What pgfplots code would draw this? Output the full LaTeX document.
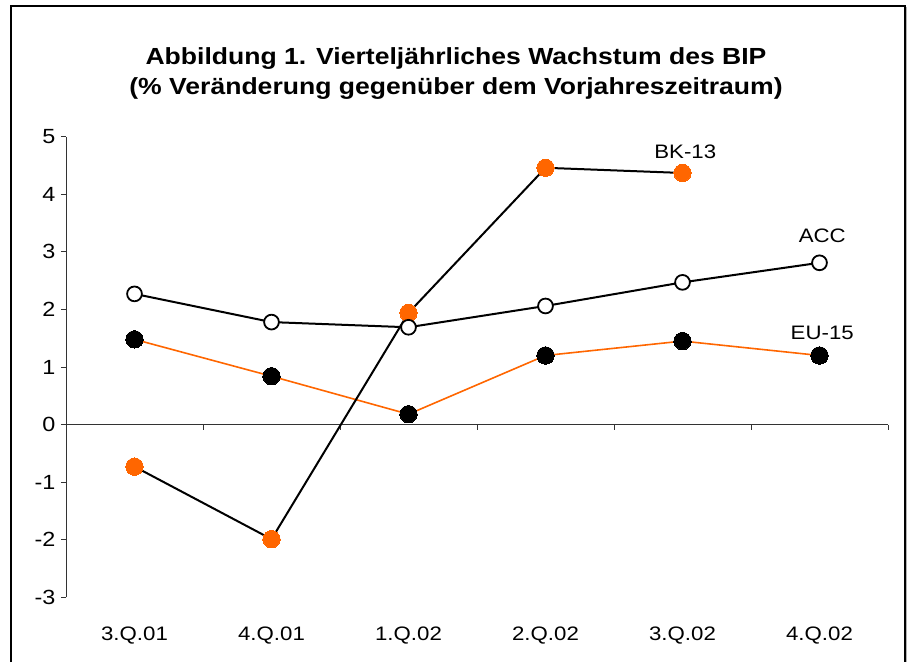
\documentclass[border=0pt]{standalone}
\usepackage{fontspec}
\setmainfont{Liberation Sans}[FakeStretch=1.14]
\usepackage{pgfplots}
\pgfplotsset{compat=1.18}
\definecolor{bkorange}{RGB}{255,102,0}
\pgfplotstableread{
x y
0 -0.73
1 -1.99
2 1.94
3 4.46
4 4.37
}\bk
\pgfplotstableread{
x y
0 2.27
1 1.78
2 1.69
3 2.06
4 2.47
5 2.81
}\acc
\pgfplotstableread{
x y
0 1.48
1 0.84
2 0.18
3 1.20
4 1.45
5 1.20
}\eu
\begin{document}
\begin{tikzpicture}
\useasboundingbox (0,0) rectangle (911pt,662pt);
\draw[gray!60, line width=1.2pt] (906.8pt,0) -- (906.8pt,655pt);
\draw[line width=1.1pt] (11pt,0) -- (11pt,656pt) -- (905pt,656pt) -- (905pt,0);
\node[anchor=base, font=\fontsize{23.3}{26}\selectfont\bfseries] at (456pt,597pt) {Abbildung 1. Vierteljährliches Wachstum des BIP};
\node[anchor=base, font=\fontsize{23.3}{26}\selectfont\bfseries] at (456pt,567pt) {(\% Veränderung gegenüber dem Vorjahreszeitraum)};
\begin{axis}[
  at={(66pt,64.7pt)}, anchor=south west,
  scale only axis, width=822pt, height=460.6pt,
  xmin=-0.5, xmax=5.5, ymin=-3, ymax=5,
  axis y line=left, axis x line=middle,
  axis line style={-, line width=0.8pt, black!80},
  xtick={-0.5,0.5,1.5,2.5,3.5,4.5,5.5}, xticklabels={},
  ytick={-3,-2,-1,0,1,2,3,4,5},
  yticklabels={-3,-2,-1,0,1,2,3,4,5},
  tick align=outside, major tick length=5pt,
  tick style={line width=0.8pt, black!80},
  yticklabel style={font=\fontsize{20.5}{20.5}\selectfont, xshift=-2pt},
  clip=false,
]
\addplot[draw=bkorange, line width=1.6pt, mark=*, mark size=8.7pt, mark options={fill=black, draw=black, line width=0pt}] table[x=x,y=y] {\eu};
\addplot[draw=black, line width=2pt, mark=*, mark size=8.7pt, mark options={fill=bkorange, draw=bkorange, line width=0pt}] table[x=x,y=y] {\bk};
\addplot[draw=black, line width=2pt, mark=*, mark size=7.4pt, mark options={fill=white, draw=black, line width=1.8pt}] table[x=x,y=y] {\acc};
\foreach \i/\lab in {0/3.Q.01,1/4.Q.01,2/1.Q.02,3/2.Q.02,4/3.Q.02,5/4.Q.02}{
  \edef\tmp{\noexpand\node[anchor=base, font=\noexpand\fontsize{19.5}{19.5}\noexpand\selectfont] at (axis cs:\i,-3) [yshift=-42.7pt] {\lab};}\tmp
}
\node[anchor=base, font=\fontsize{19.5}{19.5}\selectfont] at (axis cs:4.02,4.625) {BK-13};
\node[anchor=base, font=\fontsize{19.5}{19.5}\selectfont] at (axis cs:5.02,3.166) {ACC};
\node[anchor=base, font=\fontsize{19.5}{19.5}\selectfont] at (axis cs:5.02,1.48) {EU-15};
\end{axis}
\end{tikzpicture}
\end{document}
